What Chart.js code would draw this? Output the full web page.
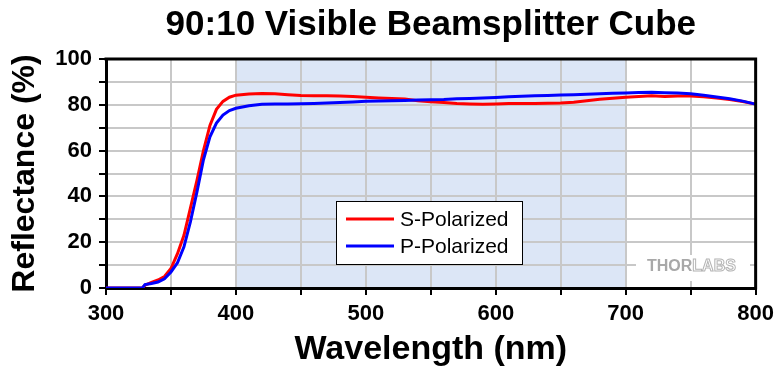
<!DOCTYPE html>
<html>
<head>
<meta charset="utf-8">
<script src="https://cdn.jsdelivr.net/npm/chart.js@4.4.1/dist/chart.umd.min.js"></script>
<style>
  body { margin: 0; background: #fff; }
  canvas { display: block; }
</style>
</head>
<body>
<canvas id="myChart" width="780" height="370"></canvas>
<script>
// data
var wavelengths = [300, 310, 320, 328, 330, 335, 340, 345, 350, 355, 360, 365, 370, 375, 380, 385, 390, 395,
  400, 410, 420, 430, 440, 450, 460, 470, 480, 490, 500, 510, 520, 530, 540, 550, 560, 570, 580, 590,
  600, 610, 620, 630, 640, 650, 660, 670, 680, 690, 700, 710, 720, 730, 740, 750, 760, 770, 780, 790, 800];
var sPolarized = [0, 0, 0, 0, 1.2, 2.5, 3.5, 5, 8.5, 15, 23, 35, 47, 60, 71, 78, 81.5, 83.3,
  84.2, 84.7, 84.9, 84.8, 84.4, 84.1, 84, 83.9, 83.8, 83.6, 83.3, 83, 82.8, 82.5, 81.8, 81.3, 81, 80.6, 80.4, 80.2,
  80.4, 80.6, 80.6, 80.6, 80.7, 80.8, 81.1, 81.8, 82.4, 82.9, 83.3, 83.6, 84, 83.6, 83.8, 83.8, 83.5, 83, 82.3, 81.4, 80.3];
var pPolarized = [0, 0, 0, 0, 1.5, 2, 2.6, 4, 7, 11, 18, 29, 42, 56, 66, 72, 75.5, 77.5,
  78.5, 79.6, 80.2, 80.3, 80.4, 80.5, 80.6, 80.8, 81, 81.2, 81.5, 81.7, 81.8, 81.9, 82.1, 82.2, 82.3, 82.6, 82.8, 83,
  83.2, 83.5, 83.7, 84, 84.1, 84.3, 84.4, 84.6, 84.8, 85, 85.2, 85.4, 85.5, 85.3, 85.1, 84.8, 84.2, 83.4, 82.6, 81.6, 80.3];
var seriesLabels = ['S-Polarized', 'P-Polarized'];
var visibleBand = [400, 700];   // shaded design range

function toPoints(ys) {
  return wavelengths.map(function(x, i) { return { x: x, y: ys[i] }; });
}

Chart.defaults.font.family = "'Liberation Sans', Arial, sans-serif";
Chart.defaults.color = '#000';

// light blue band behind the grid
var bandPlugin = {
  id: 'band',
  beforeDraw: function(chart) {
    var c = chart.ctx, a = chart.chartArea, x = chart.scales.x;
    var x0 = x.getPixelForValue(visibleBand[0]);
    var x1 = x.getPixelForValue(visibleBand[1]);
    c.save();
    c.fillStyle = 'rgb(220,230,246)';
    c.fillRect(x0, a.top, x1 - x0, a.bottom - a.top);
    c.restore();
  }
};

// watermark
var logoPlugin = {
  id: 'logo',
  beforeDatasetsDraw: function(chart) {
    var c = chart.ctx;
    c.save();
    c.fillStyle = '#fff';
    c.fillRect(636, 255, 114, 26);
    c.font = "bold 16px 'Liberation Sans', Arial";
    c.textBaseline = 'middle';
    c.fillStyle = '#a8a8a8';
    c.fillText('THOR', 647, 267);
    var w = c.measureText('THOR').width;
    c.strokeStyle = '#b4b4b4';
    c.lineWidth = 1;
    c.strokeText('LABS', 647 + w, 267);
    c.restore();
  }
};

// top/right frame and the boxed legend
var framePlugin = {
  id: 'frame',
  afterDatasetsDraw: function(chart) {
    var c = chart.ctx, a = chart.chartArea;
    c.save();
    c.strokeStyle = '#000';
    c.lineWidth = 3;
    c.beginPath();
    c.moveTo(a.left - 1.5, a.top);
    c.lineTo(a.right, a.top);
    c.lineTo(a.right, a.bottom + 1.5);
    c.stroke();

    // legend
    c.fillStyle = '#fff';
    c.fillRect(336, 201, 187, 64);
    c.lineWidth = 1;
    c.strokeRect(336.5, 201.5, 186, 63);
    c.font = "21px 'Liberation Sans', Arial";
    c.textBaseline = 'middle';
    chart.data.datasets.forEach(function(ds, i) {
      var y = 219 + i * 27;
      c.strokeStyle = ds.borderColor;
      c.lineWidth = 3;
      c.beginPath();
      c.moveTo(346, y);
      c.lineTo(394, y);
      c.stroke();
      c.fillStyle = '#000';
      c.fillText(ds.label, 400, y + 1);
    });
    c.restore();
  }
};

var ctx = document.getElementById('myChart');
var chart = new Chart(ctx, {
  type: 'line',
  data: {
    datasets: [{
      label: seriesLabels[0],
      data: toPoints(sPolarized),
      borderColor: '#ff0000',
      borderWidth: 3,
      pointRadius: 0,
      tension: 0,
      order: 1
    }, {
      label: seriesLabels[1],
      data: toPoints(pPolarized),
      borderColor: '#0000ff',
      borderWidth: 3,
      pointRadius: 0,
      tension: 0,
      order: 0
    }]
  },
  options: {
    responsive: false,
    animation: false,
    events: [],
    layout: { padding: { top: 0, right: 21, bottom: 0, left: 0 } },
    plugins: {
      legend: { display: false },
      tooltip: { enabled: false },
      title: {
        display: true,
        text: '90:10 Visible Beamsplitter Cube',
        fullSize: false,
        font: { size: 35, weight: 'bold' },
        color: '#000',
        padding: { top: 4, bottom: 13 }
      }
    },
    scales: {
      x: {
        type: 'linear',
        min: 300,
        max: 800,
        afterFit: function(s) { s.height = 82; },
        ticks: {
          stepSize: 50,
          autoSkip: false,
          maxRotation: 0,
          padding: 6,
          font: { size: 22, weight: 'bold' },
          color: '#000',
          callback: function(v) { return v % 100 === 0 ? v : ''; }
        },
        grid: { color: '#c8c8c8', lineWidth: 2, tickColor: '#000', tickWidth: 2, tickLength: 7 },
        border: { color: '#000', width: 3 },
        title: {
          display: true,
          text: 'Wavelength (nm)',
          font: { size: 34, weight: 'bold' },
          color: '#000',
          padding: { top: 0, bottom: 0 }
        }
      },
      y: {
        min: 0,
        max: 100,
        afterFit: function(s) { s.width = 106; },
        ticks: {
          stepSize: 10,
          autoSkip: false,
          padding: 7,
          font: { size: 22, weight: 'bold' },
          color: '#000',
          callback: function(v) { return v % 20 === 0 ? v : ''; }
        },
        grid: { color: '#c8c8c8', lineWidth: 2, tickColor: '#000', tickWidth: 2, tickLength: 7 },
        border: { color: '#000', width: 3 },
        title: {
          display: true,
          text: 'Reflectance (%)',
          font: { size: 32, weight: 'bold' },
          color: '#000',
          padding: { top: 6, bottom: 0 }
        }
      }
    }
  },
  plugins: [bandPlugin, logoPlugin, framePlugin]
});
</script>
</body>
</html>
